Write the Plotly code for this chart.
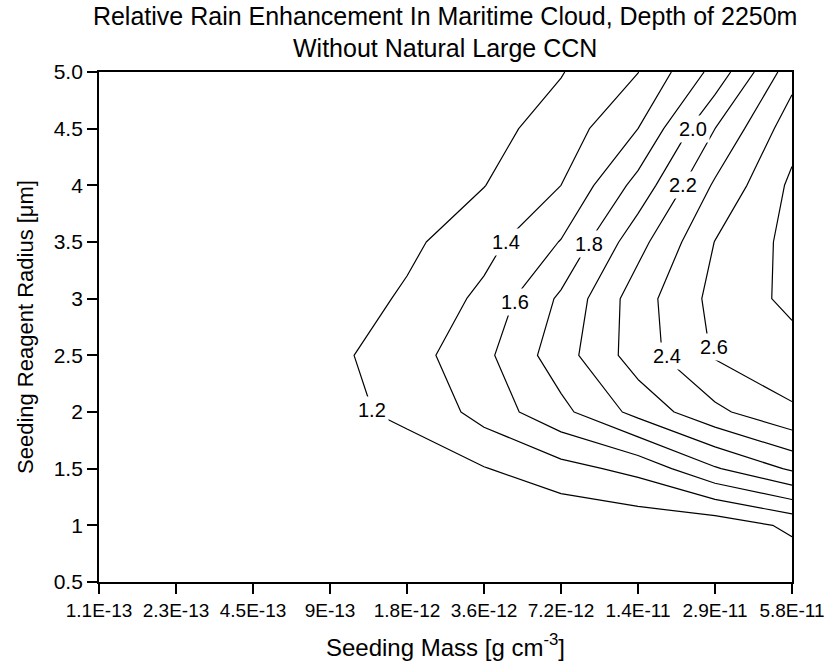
import plotly.graph_objects as go

# Seeding mass categories (x axis, equally spaced)
mass_labels = ['1.1E-13', '2.3E-13', '4.5E-13', '9E-13', '1.8E-12',
               '3.6E-12', '7.2E-12', '1.4E-11', '2.9E-11', '5.8E-11']
mass_pos = list(range(len(mass_labels)))

# Seeding reagent radius (y axis, micrometres)
radius = [0.5, 1.0, 1.5, 2.0, 2.5, 3.0, 3.5, 4.0, 4.5, 5.0]
radius_ticktext = ['0.5', '1', '1.5', '2', '2.5', '3', '3.5', '4', '4.5', '5.0']

# Relative rain enhancement, one row per radius value (estimated from the contours)
enh_r05 = [1.00, 1.00, 1.00, 1.00, 1.00, 1.00, 1.01, 1.02, 1.03, 1.04]
enh_r10 = [1.00, 1.00, 1.00, 1.00, 1.01, 1.02, 1.035, 1.07, 1.08, 1.24]
enh_r15 = [1.00, 1.01, 1.03, 1.08, 1.153, 1.19, 1.33, 1.46, 1.78, 2.03]
enh_r20 = [1.02, 1.05, 1.10, 1.175, 1.22, 1.477, 1.746, 2.065, 2.353, 2.573]
enh_r25 = [1.02, 1.05, 1.10, 1.15, 1.31, 1.55, 1.91, 2.30, 2.62, 2.72]
enh_r30 = [1.00, 1.02, 1.05, 1.088, 1.228, 1.45, 1.835, 2.31, 2.66, 2.85]
enh_r35 = [1.00, 1.01, 1.03, 1.08, 1.158, 1.326, 1.61, 2.13, 2.605, 2.862]
enh_r40 = [1.00, 1.00, 1.02, 1.05, 1.12, 1.195, 1.40, 1.87, 2.43, 2.84]
enh_r45 = [1.00, 1.00, 1.01, 1.03, 1.08, 1.132, 1.283, 1.60, 2.20, 2.72]
enh_r50 = [1.00, 1.00, 1.00, 1.02, 1.05, 1.10, 1.19, 1.396, 1.867, 2.52]

enhancement = [enh_r05, enh_r10, enh_r15, enh_r20, enh_r25,
               enh_r30, enh_r35, enh_r40, enh_r45, enh_r50]

# Contour levels drawn, and the levels that carry an in-line label
levels_start, levels_end, levels_step = 1.2, 2.8, 0.2
label_levels = [1.2, 1.4, 1.6, 1.8, 2.0, 2.2, 2.4, 2.6]
# where each label sits on its line (x = mass category index, y = radius)
label_x = [3.55, 5.28, 5.40, 6.37, 7.71, 7.59, 7.38, 7.99]
label_y = [2.02, 3.50, 2.97, 3.48, 4.50, 4.00, 2.49, 2.57]

FONT = 'Liberation Sans, Arial, sans-serif'

fig = go.Figure()
fig.add_trace(go.Contour(
    x=mass_pos, y=radius, z=enhancement,
    contours=dict(coloring='lines', start=levels_start, end=levels_end,
                  size=levels_step, showlabels=False),
    colorscale=[[0, 'black'], [1, 'black']],
    line=dict(color='black', width=1.2, smoothing=0),
    showscale=False, hoverinfo='skip',
))

for lev, lx, ly in zip(label_levels, label_x, label_y):
    fig.add_annotation(x=lx, y=ly, xref='x', yref='y', text=f'{lev:.1f}',
                       showarrow=False, bgcolor='white', borderpad=2,
                       font=dict(family=FONT, size=20, color='black'))

fig.update_layout(
    width=829, height=665,
    margin=dict(l=99, r=37, t=72, b=83),
    paper_bgcolor='white', plot_bgcolor='white',
    font=dict(family=FONT, color='black'),
    title=dict(text='Relative Rain Enhancement In Maritime Cloud, Depth of 2250m<br>Without Natural Large CCN',
               x=0.537, xanchor='center', xref='container',
               y=0.9625, yanchor='middle', yref='container',
               font=dict(size=25, color='black')),
    showlegend=False,
)
fig.update_xaxes(
    range=[0, 9], tickvals=mass_pos, ticktext=mass_labels, tickangle=0,
    showgrid=False, zeroline=False, showline=True, linecolor='black', linewidth=1.8,
    mirror=True, ticks='outside', ticklen=10, tickwidth=1.5, tickcolor='black',
    tickfont=dict(size=19),
    title=dict(text='Seeding Mass [g cm<sup>-3</sup>]', font=dict(size=24), standoff=19),
    automargin=False,
)
fig.update_yaxes(
    range=[0.5, 5.0], tickvals=radius, ticktext=radius_ticktext,
    showgrid=False, zeroline=False, showline=True, linecolor='black', linewidth=1.8,
    mirror=True, ticks='outside', ticklen=10, tickwidth=1.5, tickcolor='black',
    tickfont=dict(size=21),
    title=dict(text='Seeding Reagent Radius [μm]', font=dict(size=22), standoff=14),
    automargin=False,
)

fig.write_html('out.html')
